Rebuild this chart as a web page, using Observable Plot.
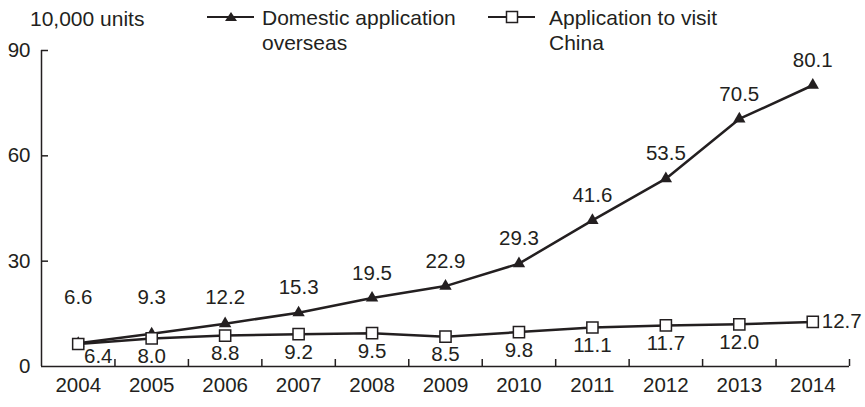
<!DOCTYPE html>
<html>
<head>
<meta charset="utf-8">
<script src="https://cdn.jsdelivr.net/npm/d3@7"></script>
<script src="https://cdn.jsdelivr.net/npm/@observablehq/plot@0.6"></script>
<style>
  body { margin: 0; background: #fff; }
  #wrap { position: relative; width: 865px; height: 407px; font-family: "Liberation Sans", Arial, sans-serif; color: #231f20; }
  .t { position: absolute; font-size: 21px; line-height: 25px; white-space: nowrap; }
  .leg { position: absolute; }
</style>
</head>
<body>
<div id="wrap"></div>
<script>
const years = [2004, 2005, 2006, 2007, 2008, 2009, 2010, 2011, 2012, 2013, 2014];
const domesticOverseas = [6.6, 9.3, 12.2, 15.3, 19.5, 22.9, 29.3, 41.6, 53.5, 70.5, 80.1];
const visitChina = [6.4, 8.0, 8.8, 9.2, 9.5, 8.5, 9.8, 11.1, 11.7, 12.0, 12.7];
const yTicks = [0, 30, 60, 90];
const unitLabel = "10,000 units";
const seriesNames = ["Domestic application\noverseas", "Application to visit\nChina"];

const ink = "#231f20";
const fs = 20.5;
const dom = years.map((y, i) => ({year: y, v: domesticOverseas[i]}));
const vis = years.map((y, i) => ({year: y, v: visitChina[i]}));
const bounds = years.map(y => y + 0.5);

const W = 865, H = 407, mL = 41, mR = 16, mT = 50, mB = 41;
const plotW = W - mL - mR, plotH = H - mT - mB;

const chart = Plot.plot({
  width: W, height: H,
  marginLeft: mL, marginRight: mR, marginTop: mT, marginBottom: mB,
  style: {fontFamily: "Liberation Sans, Arial, sans-serif", fontSize: fs + "px", color: ink, background: "#fff"},
  x: {type: "linear", domain: [years[0] - 0.5, years[years.length - 1] + 0.5]},
  y: {domain: [0, 90]},
  marks: [
    Plot.axisX({ticks: years, tickSize: 0, tickPadding: 11, tickFormat: d => String(d), label: null, fontSize: fs}),
    Plot.axisY({ticks: yTicks, tickSize: 0, tickPadding: 11, label: null, fontSize: fs}),
    Plot.tickX(bounds, {x: d => d, insetTop: plotH - 7, stroke: ink, strokeWidth: 1.5}),
    Plot.tickY(yTicks.filter(d => d > 0), {y: d => d, insetRight: plotW - 7, stroke: ink, strokeWidth: 1.5}),
    Plot.ruleY([0], {stroke: ink, strokeWidth: 1.5}),
    Plot.ruleX([years[0] - 0.5], {stroke: ink, strokeWidth: 1.5}),
    Plot.line(dom, {x: "year", y: "v", stroke: ink, strokeWidth: 2.5}),
    Plot.line(vis, {x: "year", y: "v", stroke: ink, strokeWidth: 2.5}),
    Plot.dot(dom, {x: "year", y: "v", symbol: "triangle", r: 4.6, fill: ink, stroke: null}),
    Plot.dot(vis, {x: "year", y: "v", symbol: "square", r: 6.3, fill: "#fff", stroke: ink, strokeWidth: 1.5}),
    Plot.text(dom, {x: "year", y: d => Math.max(d.v, 12.6), dy: -25, text: d => d.v.toFixed(1), fill: ink, fontSize: fs}),
    Plot.text(vis.slice(1, -1), {x: "year", y: "v", dy: 18, text: d => d.v.toFixed(1), fill: ink, fontSize: fs}),
    Plot.text(vis.slice(0, 1), {x: "year", y: "v", dy: 12, dx: 20, text: d => d.v.toFixed(1), fill: ink, fontSize: fs}),
    Plot.text(vis.slice(-1), {x: "year", y: "v", dx: 9, textAnchor: "start", text: d => d.v.toFixed(1), fill: ink, fontSize: fs})
  ]
});

const wrap = document.getElementById("wrap");
wrap.appendChild(chart);
chart.style.position = "absolute";
chart.style.left = "0px";
chart.style.top = "0px";

function addText(txt, x, y) {
  const d = document.createElement("div");
  d.className = "t";
  d.style.left = x + "px";
  d.style.top = y + "px";
  d.innerHTML = txt.split("\n").join("<br>");
  wrap.appendChild(d);
}
function addKey(x, y, kind) {
  const ns = "http://www.w3.org/2000/svg";
  const s = document.createElementNS(ns, "svg");
  s.setAttribute("width", 50); s.setAttribute("height", 16);
  s.setAttribute("class", "leg");
  s.style.left = x + "px"; s.style.top = (y - 8) + "px";
  const l = document.createElementNS(ns, "line");
  l.setAttribute("x1", 0); l.setAttribute("x2", 47); l.setAttribute("y1", 8); l.setAttribute("y2", 8);
  l.setAttribute("stroke", ink); l.setAttribute("stroke-width", 2.2);
  s.appendChild(l);
  if (kind === "tri") {
    const p = document.createElementNS(ns, "path");
    p.setAttribute("d", "M24,3 L30,12 L18,12 Z");
    p.setAttribute("fill", ink);
    s.appendChild(p);
  } else {
    const r = document.createElementNS(ns, "rect");
    r.setAttribute("x", 18.5); r.setAttribute("y", 2.5); r.setAttribute("width", 11); r.setAttribute("height", 11);
    r.setAttribute("fill", "#fff"); r.setAttribute("stroke", ink); r.setAttribute("stroke-width", 1.5);
    s.appendChild(r);
  }
  wrap.appendChild(s);
}
addText(unitLabel, 30, 6);
addKey(207, 17, "tri");
addText(seriesNames[0], 262, 5);
addKey(488, 17, "sq");
addText(seriesNames[1], 549, 5);
</script>
</body>
</html>
